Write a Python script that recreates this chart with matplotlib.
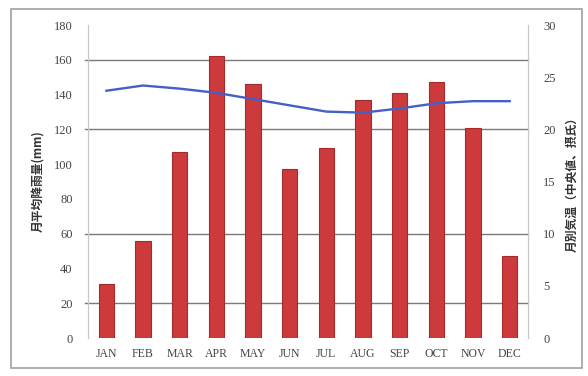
import matplotlib
matplotlib.use("Agg")
from matplotlib import pyplot as plt
from matplotlib.patches import Rectangle

# 月別データ
months = ['JAN', 'FEB', 'MAR', 'APR', 'MAY', 'JUN', 'JUL', 'AUG', 'SEP', 'OCT', 'NOV', 'DEC']
rain_mm = [31, 56, 107, 162, 146, 97, 109, 137, 141, 147, 121, 47]
temp_c = [23.7, 24.2, 23.9, 23.5, 22.9, 22.3, 21.7, 21.6, 22.0, 22.5, 22.7, 22.7]
rain_ticks = list(range(0, 181, 20))
temp_ticks = list(range(0, 31, 5))
grid_levels = [20, 60, 120, 160]

jp_font = ['Noto Sans CJK JP', 'DejaVu Sans']
num_font = 'Liberation Serif'

fig = plt.figure(figsize=(5.88, 3.76), dpi=100)
fig.patch.set_facecolor('white')
fig.patches.append(Rectangle((0.018, 0.022), 0.972, 0.955, transform=fig.transFigure,
                             fill=False, edgecolor='#a0a0a0', linewidth=1.2))

ax = fig.add_axes([0.1497, 0.101, 0.7483, 0.8325])
x = range(len(months))

for lv in grid_levels:
    ax.axhline(lv, xmin=-0.008, xmax=1.0, color='#7a7a7a', linewidth=1.0,
               clip_on=False, zorder=1)

ax.bar(x, rain_mm, width=0.42, color='#cc3a3c', edgecolor='#a52a2c',
       linewidth=0.8, zorder=2)

ax.set_xlim(-0.5, 11.5)
ax.set_ylim(0, 180)
ax.set_yticks(rain_ticks)
ax.set_yticklabels([str(t) for t in rain_ticks], fontname=num_font, fontsize=9, color='#444444')
ax.set_xticks(list(x))
ax.set_xticklabels(months, fontname=num_font, fontsize=8.5, color='#444444')
ax.tick_params(axis='y', length=0, pad=11)
ax.tick_params(axis='x', length=0, pad=7)
ax.set_ylabel('月平均降雨量(mm)', family=jp_font, fontsize=8.5, fontweight='bold',
              color='#333333', labelpad=7)

ax2 = ax.twinx()
ax2.plot(x, temp_c, color='#4460c4', linewidth=1.7, zorder=3)
ax2.set_ylim(0, 30)
ax2.set_yticks(temp_ticks)
ax2.set_yticklabels([str(t) for t in temp_ticks], fontname=num_font, fontsize=9, color='#444444')
ax2.tick_params(axis='y', length=0, pad=11)
ax2.set_ylabel('月別気温（中央値、摂氏）', family=jp_font, fontsize=8.5, fontweight='bold',
               color='#333333', rotation=90, labelpad=7)

for a in (ax, ax2):
    a.spines['top'].set_visible(False)
    a.spines['bottom'].set_visible(False)
    a.spines['left'].set_color('#c8c8c8')
    a.spines['right'].set_color('#c8c8c8')
    a.set_facecolor('none')

plt.savefig('out.png', dpi=100)
